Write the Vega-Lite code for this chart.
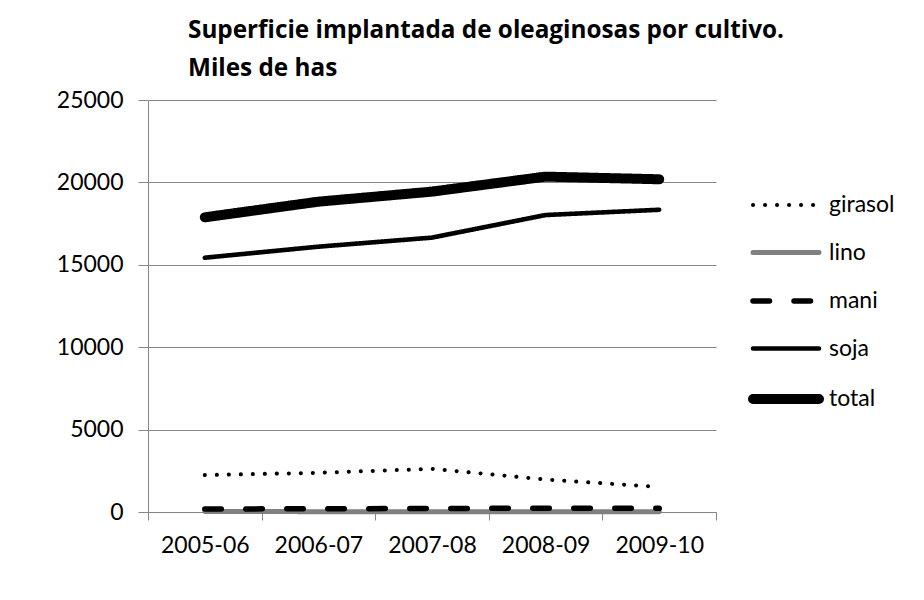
{
  "$schema": "https://vega.github.io/schema/vega-lite/v6.json",
  "width": 568,
  "height": 412,
  "autosize": {"type": "none"},
  "padding": {"left": 148, "top": 100, "right": 208, "bottom": 88},
  "background": "white",
  "title": {
    "text": ["Superficie implantada de oleaginosas por cultivo.", "\u00a0Miles de has"],
    "anchor": "start",
    "frame": "group",
    "dx": 40,
    "offset": 8,
    "font": "Open Sans",
    "fontSize": 24.3,
    "fontWeight": "bold",
    "color": "black",
    "lineHeight": 38,
    "align": "left"
  },
  "data": {
    "values": [
      {"campana": "2005-06", "cultivo": "girasol", "valor": 2240},
      {"campana": "2006-07", "cultivo": "girasol", "valor": 2380},
      {"campana": "2007-08", "cultivo": "girasol", "valor": 2620},
      {"campana": "2008-09", "cultivo": "girasol", "valor": 1970},
      {"campana": "2009-10", "cultivo": "girasol", "valor": 1520},
      {"campana": "2005-06", "cultivo": "lino", "valor": 35},
      {"campana": "2006-07", "cultivo": "lino", "valor": 20},
      {"campana": "2007-08", "cultivo": "lino", "valor": 15},
      {"campana": "2008-09", "cultivo": "lino", "valor": 20},
      {"campana": "2009-10", "cultivo": "lino", "valor": 15},
      {"campana": "2005-06", "cultivo": "mani", "valor": 180},
      {"campana": "2006-07", "cultivo": "mani", "valor": 200},
      {"campana": "2007-08", "cultivo": "mani", "valor": 210},
      {"campana": "2008-09", "cultivo": "mani", "valor": 230},
      {"campana": "2009-10", "cultivo": "mani", "valor": 220},
      {"campana": "2005-06", "cultivo": "soja", "valor": 15430},
      {"campana": "2006-07", "cultivo": "soja", "valor": 16100},
      {"campana": "2007-08", "cultivo": "soja", "valor": 16650},
      {"campana": "2008-09", "cultivo": "soja", "valor": 18020},
      {"campana": "2009-10", "cultivo": "soja", "valor": 18340},
      {"campana": "2005-06", "cultivo": "total", "valor": 17880},
      {"campana": "2006-07", "cultivo": "total", "valor": 18830},
      {"campana": "2007-08", "cultivo": "total", "valor": 19440},
      {"campana": "2008-09", "cultivo": "total", "valor": 20350},
      {"campana": "2009-10", "cultivo": "total", "valor": 20190}
    ]
  },
  "mark": {"type": "line", "strokeCap": "round", "strokeJoin": "round"},
  "encoding": {
    "x": {
      "field": "campana",
      "type": "ordinal",
      "bandPosition": 0.5,
      "scale": {"type": "band", "paddingInner": 0, "paddingOuter": 0},
      "axis": {
        "title": null,
        "labelAngle": 0,
        "tickBand": "extent",
        "grid": false,
        "domainColor": "#868686",
        "tickColor": "#868686",
        "tickSize": 8,
        "labelPadding": 14,
        "labelFont": "Lato",
        "labelFontSize": 23,
        "labelColor": "black"
      }
    },
    "y": {
      "field": "valor",
      "type": "quantitative",
      "scale": {"domain": [0, 25000], "nice": false},
      "axis": {
        "title": null,
        "values": [0, 5000, 10000, 15000, 20000, 25000],
        "format": "d",
        "grid": true,
        "gridColor": "#868686",
        "domainColor": "#868686",
        "tickColor": "#868686",
        "tickSize": 10,
        "labelPadding": 15,
        "labelFont": "Lato",
        "labelFontSize": 23,
        "labelColor": "black"
      }
    },
    "color": {
      "field": "cultivo",
      "type": "nominal",
      "scale": {"domain": ["girasol", "lino", "mani", "soja", "total"], "range": ["black", "#808080", "black", "black", "black"]},
      "legend": {
        "title": null,
        "orient": "none",
        "legendX": 600,
        "legendY": 70,
        "symbolType": "stroke",
        "symbolSize": 4356,
        "labelFont": "Lato",
        "labelFontSize": 23,
        "labelColor": "black",
        "labelOffset": 5,
        "rowPadding": 0,
        "encode": {"symbols": {"update": {"strokeCap": {"value": "round"}}}}
      }
    },
    "strokeDash": {
      "field": "cultivo",
      "type": "nominal",
      "scale": {"domain": ["girasol", "lino", "mani", "soja", "total"], "range": [[0.1, 11.9], [1, 0], [16.5, 24.5], [1, 0], [1, 0]]}
    },
    "strokeWidth": {
      "field": "cultivo",
      "type": "nominal",
      "scale": {"type": "ordinal", "domain": ["girasol", "lino", "mani", "soja", "total"], "range": [4, 5, 5.5, 4.6, 10]}
    }
  },
  "config": {
    "view": {"stroke": null},
    "axis": {"domainWidth": 1, "gridWidth": 1, "tickWidth": 1}
  }
}
